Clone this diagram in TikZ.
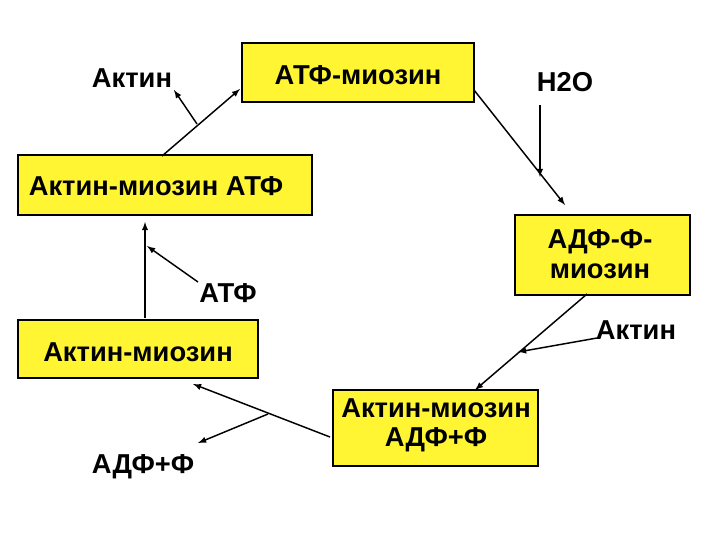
\documentclass[tikz,border=0pt]{standalone}
\usepackage{fontspec}
\setmainfont{Liberation Sans}
\begin{document}
\begin{tikzpicture}[x=0.75pt,y=-0.75pt,
  box/.style={draw=black,fill=yellow!80!white,line width=0.8pt,inner sep=0pt},
  lbl/.style={font=\fontsize{20.5}{22}\selectfont\bfseries,align=center},
  arr/.style={-latex,line width=1.1pt}]
\useasboundingbox (0,0) rectangle (720,540);
\fill[box] (242,43) rectangle (474,102);
\node[lbl] (b1) at (358,75) {АТФ-миозин};
\fill[box] (18,155) rectangle (312,215);
\node[lbl] (b2) at (156,186) {Актин-миозин АТФ};
\fill[box] (515,215) rectangle (690,295);
\node[lbl] (b3) at (600,254) {АДФ-Ф-\\миозин};
\fill[box] (18,320) rectangle (258,378);
\node[lbl] (b4) at (138,352) {Актин-миозин};
\fill[box] (333,390) rectangle (538,466);
\node[lbl] (b5) at (436,425) {Актин-миозин\\АДФ+Ф};
\node[lbl] (a1) at (132,78) {Актин};
\node[lbl] (h) at (565,82) {H2O};
\node[lbl] (atf) at (228,293) {АТФ};
\node[lbl] (a2) at (636,330) {Актин};
\node[lbl] (adf) at (143,467) {АДФ+Ф};
\coordinate (p1) at (162,156); \coordinate (q1) at (240,89);
\coordinate (m1) at (197,124); \coordinate (e1) at (174,90);
\draw[arr] (p1) -- (q1);
\draw[arr] (m1) -- (e1);
\coordinate (p2) at (474,90); \coordinate (q2) at (565,205);
\draw[arr] (p2) -- (q2);
\coordinate (h1) at (540,105); \coordinate (h2) at (540,177);
\draw[arr] (h1) -- (h2);
\coordinate (p3) at (587,294); \coordinate (q3) at (475,390);
\draw[arr] (p3) -- (q3);
\coordinate (a2s) at (597,338); \coordinate (a2e) at (518,352);
\draw[arr] (a2s) -- (a2e);
\coordinate (p4) at (330,437); \coordinate (q4) at (193,384);
\draw[arr] (p4) -- (q4);
\coordinate (m4) at (268,414); \coordinate (e4) at (198,443);
\draw[arr] (m4) -- (e4);
\coordinate (p5) at (145,318); \coordinate (q5) at (145,222);
\draw[arr] (p5) -- (q5);
\coordinate (t1) at (198,282); \coordinate (t2) at (147,246);
\draw[arr] (t1) -- (t2);
\end{tikzpicture}
\end{document}
